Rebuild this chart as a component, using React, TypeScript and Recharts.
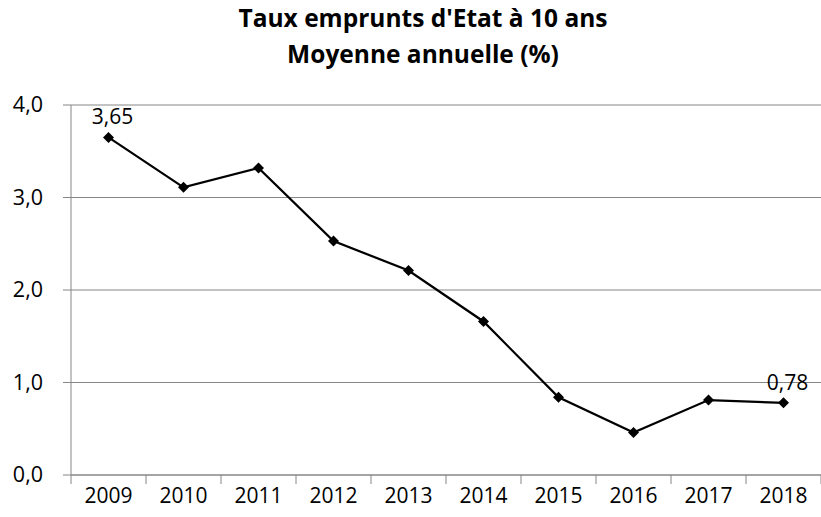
import React from "react";
import { LineChart, Line, XAxis, YAxis, CartesianGrid, LabelList } from "recharts";

const years = ["2009", "2010", "2011", "2012", "2013", "2014", "2015", "2016", "2017", "2018"];
const rates = [3.65, 3.11, 3.32, 2.53, 2.21, 1.66, 0.84, 0.46, 0.81, 0.78];
const yTicks = [0, 1, 2, 3, 4];
const titleLines = ["Taux emprunts d'Etat à 10 ans", "Moyenne annuelle (%)"];

const data = years.map((y, i) => ({ pos: i + 0.5, year: y, rate: rates[i] }));
const xTicks = years.map((_, i) => i).concat([years.length]);

const FONT = "'Open Sans', 'Noto Sans', sans-serif";
const fmt = (v: number) => v.toFixed(2).replace(".", ",");

const XTick = (props: any) => {
  const { x, y, payload, index } = props;
  if (index >= years.length) return null;
  const band = 75;
  return (
    <text x={x + band / 2} y={y} dy={17} textAnchor="middle" fontSize={21} fill="#000" fontFamily={FONT}>
      {years[payload.value] ?? ""}
    </text>
  );
};

const YTick = (props: any) => {
  const { x, y, payload } = props;
  return (
    <text x={x} y={y} dy={7} textAnchor="end" fontSize={21.5} fill="#000" fontFamily={FONT}>
      {Number(payload.value).toFixed(1).replace(".", ",")}
    </text>
  );
};

const Diamond = (props: any) => {
  const { cx, cy } = props;
  if (cx == null || cy == null) return null;
  const s = 5.5;
  return <polygon points={`${cx},${cy - s} ${cx + s},${cy} ${cx},${cy + s} ${cx - s},${cy}`} fill="#000" />;
};

const EndLabel = (props: any) => {
  const { x, y, index, value } = props;
  if (index !== 0 && index !== rates.length - 1) return null;
  return (
    <text x={x + 4} y={y - 13} textAnchor="middle" fontSize={21} fill="#000" fontFamily={FONT}>
      {fmt(value)}
    </text>
  );
};

export default function App() {
  return (
    <div style={{ position: "absolute", left: 0, top: 0, width: 821, height: 517, background: "#fff" }}>
      {titleLines.map((t, i) => (
        <div
          key={i}
          style={{
            position: "absolute",
            left: 123,
            width: 600,
            top: i === 0 ? 1 : 37,
            textAlign: "center",
            fontFamily: FONT,
            fontWeight: 700,
            fontSize: 24.5,
            lineHeight: "34px",
            color: "#000",
          }}
        >
          {t}
        </div>
      ))}
      <LineChart
        width={821}
        height={517}
        data={data}
        margin={{ top: 105, right: 0, bottom: 0, left: 0 }}
      >
        <CartesianGrid vertical={false} stroke="#868686" strokeWidth={1} />
        <XAxis
          dataKey="pos"
          type="number"
          domain={[0, 10]}
          ticks={xTicks}
          interval={0}
          height={42}
          axisLine={{ stroke: "#868686" }}
          tickLine={{ stroke: "#868686" }}
          tickSize={9}
          tick={<XTick />}
        />
        <YAxis
          type="number"
          domain={[0, 4]}
          ticks={yTicks}
          width={71}
          axisLine={{ stroke: "#868686" }}
          tickLine={{ stroke: "#868686" }}
          tickSize={8}
          tickMargin={20}
          tick={<YTick />}
        />
        <Line
          type="linear"
          dataKey="rate"
          stroke="#000"
          strokeWidth={2.25}
          dot={<Diamond />}
          activeDot={false}
          isAnimationActive={false}
        >
          <LabelList dataKey="rate" content={<EndLabel />} />
        </Line>
      </LineChart>
    </div>
  );
}
